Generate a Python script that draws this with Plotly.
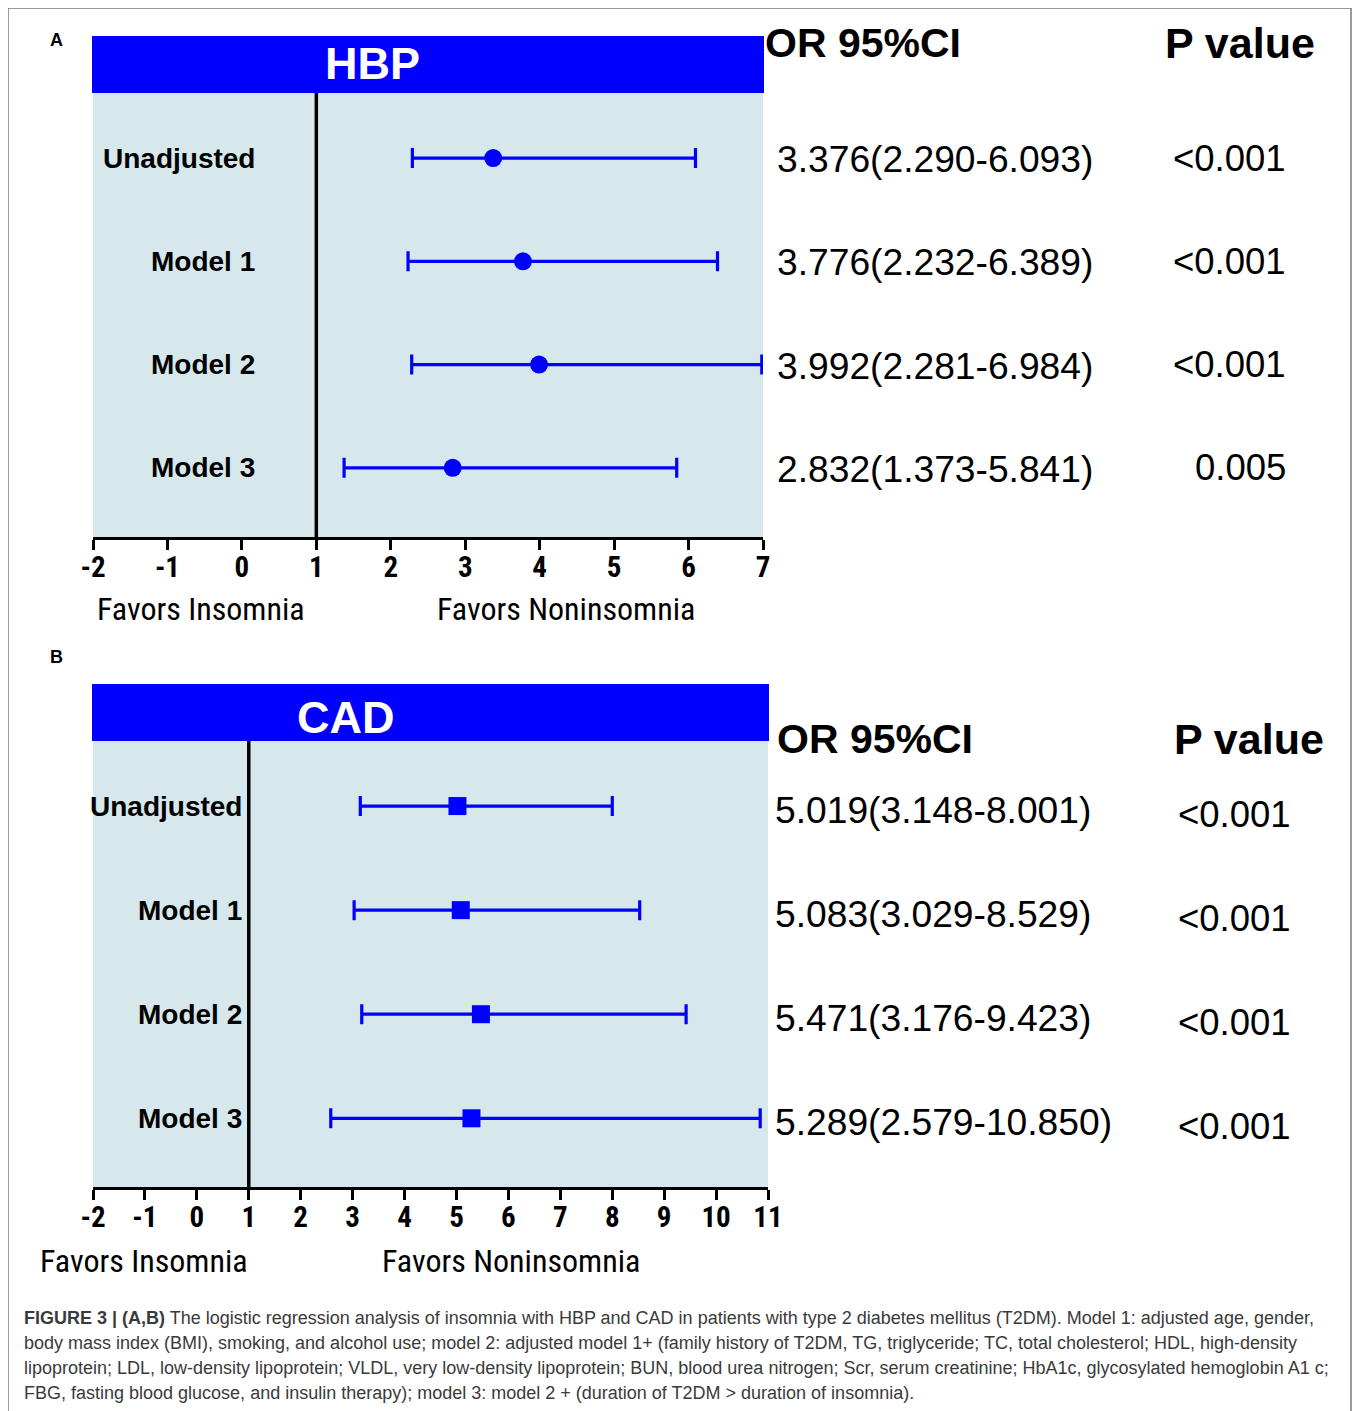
import plotly.graph_objects as go

# ---------------- data ----------------
models = ["Unadjusted", "Model 1", "Model 2", "Model 3"]

hbp_or = [3.376, 3.776, 3.992, 2.832]
hbp_lo = [2.290, 2.232, 2.281, 1.373]
hbp_hi = [6.093, 6.389, 6.984, 5.841]
hbp_p = ["<0.001", "<0.001", "<0.001", "0.005"]

cad_or = [5.019, 5.083, 5.471, 5.289]
cad_lo = [3.148, 3.029, 3.176, 2.579]
cad_hi = [8.001, 8.529, 9.423, 10.850]
cad_p = ["<0.001", "<0.001", "<0.001", "<0.001"]

hbp_ticks = [-2, -1, 0, 1, 2, 3, 4, 5, 6, 7]
cad_ticks = [-2, -1, 0, 1, 2, 3, 4, 5, 6, 7, 8, 9, 10, 11]

caption_lines = [
    "<b>FIGURE 3 | (A,B)</b> The logistic regression analysis of insomnia with HBP and CAD in patients with type 2 diabetes mellitus (T2DM). Model 1: adjusted age, gender,",
    "body mass index (BMI), smoking, and alcohol use; model 2: adjusted model 1+ (family history of T2DM, TG, triglyceride; TC, total cholesterol; HDL, high-density",
    "lipoprotein; LDL, low-density lipoprotein; VLDL, very low-density lipoprotein; BUN, blood urea nitrogen; Scr, serum creatinine; HbA1c, glycosylated hemoglobin A1 c;",
    "FBG, fasting blood glucose, and insulin therapy); model 3: model 2 + (duration of T2DM &gt; duration of insomnia).",
]

# ---------------- layout helpers ----------------
W, H = 1360, 1411
OFF = 8  # page body margin
def px(x):
    return (x - OFF) / W
def py(y):
    return 1 - (y - OFF) / H

BLUE = "#0000FF"
BG = "#D6E8EC"
SANS = "Liberation Sans, Arial, sans-serif"
NARROW = "Roboto Condensed, Liberation Sans, sans-serif"

fig = go.Figure()
idx = list(range(len(models)))

def esc(s):
    return s.replace("<", "&lt;").replace(">", "&gt;")

fig.add_trace(go.Scatter(
    x=hbp_or, y=idx, mode="markers", xaxis="x", yaxis="y",
    marker=dict(symbol="circle", size=18, color=BLUE),
    error_x=dict(type="data", symmetric=False,
                 array=[h - o for h, o in zip(hbp_hi, hbp_or)],
                 arrayminus=[o - l for o, l in zip(hbp_or, hbp_lo)],
                 color=BLUE, thickness=3.2, width=10),
    showlegend=False, hoverinfo="x+y"))

fig.add_trace(go.Scatter(
    x=cad_or, y=idx, mode="markers", xaxis="x2", yaxis="y2",
    marker=dict(symbol="square", size=18, color=BLUE),
    error_x=dict(type="data", symmetric=False,
                 array=[h - o for h, o in zip(cad_hi, cad_or)],
                 arrayminus=[o - l for o, l in zip(cad_or, cad_lo)],
                 color=BLUE, thickness=3.2, width=10),
    showlegend=False, hoverinfo="x+y"))

xcommon = dict(showline=True, linecolor="black", linewidth=3, ticks="outside",
               ticklen=10, tickwidth=3, tickcolor="black", showgrid=False,
               zeroline=False, fixedrange=True, automargin=False,
               ticklabelstandoff=-8,
               tickfont=dict(family=NARROW, size=29, color="black", weight="bold"))
ycommon = dict(showline=False, showticklabels=False, ticks="", showgrid=False,
               zeroline=False, fixedrange=True, automargin=False)

fig.update_layout(
    width=W, height=H, margin=dict(l=0, r=0, t=0, b=0, pad=0, autoexpand=False),
    paper_bgcolor="white", plot_bgcolor=BG, showlegend=False,
    xaxis=dict(domain=[px(93), px(763)], range=[-2, 7], tickvals=hbp_ticks,
               ticktext=[str(t) for t in hbp_ticks], anchor="y", **xcommon),
    yaxis=dict(domain=[py(537), py(93)], range=[3.67, -0.63], anchor="x", **ycommon),
    xaxis2=dict(domain=[px(93), px(768)], range=[-2, 11], tickvals=cad_ticks,
                ticktext=[str(t) for t in cad_ticks], anchor="y2", **xcommon),
    yaxis2=dict(domain=[py(1187), py(741)], range=[3.66, -0.625], anchor="x2", **ycommon),
)

shapes = []
# border (open at the bottom)
shapes.append(dict(type="path", xref="paper", yref="paper",
                   path=f"M {px(8)},0 L {px(8)},{py(8)} L {px(1351)},{py(8)} L {px(1351)},0",
                   line=dict(color="#7a7a7a", width=1.5)))
# header bars
shapes.append(dict(type="rect", xref="paper", yref="paper", x0=px(92), x1=px(764),
                   y0=py(93), y1=py(36), fillcolor=BLUE, line=dict(width=0)))
shapes.append(dict(type="rect", xref="paper", yref="paper", x0=px(92), x1=px(769),
                   y0=py(741), y1=py(684), fillcolor=BLUE, line=dict(width=0)))
# reference lines at OR = 1
shapes.append(dict(type="line", xref="x", yref="y domain", x0=1, x1=1, y0=0, y1=1,
                   line=dict(color="black", width=3.5)))
shapes.append(dict(type="line", xref="x2", yref="y2 domain", x0=1, x1=1, y0=0, y1=1,
                   line=dict(color="black", width=3.5)))
fig.update_layout(shapes=shapes)

ann = []
def txt(x, y, s, size, family=SANS, bold=False, xanchor="center", color="black",
        xref="paper", yref="paper", yshift=0):
    ann.append(dict(x=x, y=y, xref=xref, yref=yref, text=s, showarrow=False,
                    xanchor=xanchor, yanchor="middle", yshift=yshift,
                    font=dict(family=family, size=size, color=color,
                              weight="bold" if bold else "normal")))

# panel letters
txt(px(57), py(40), "A", 18, bold=True)
txt(px(57), py(657), "B", 18, bold=True)
# header titles
txt(px(372), py(64), "HBP", 45, bold=True, color="white")
txt(px(346), py(717), "CAD", 45, bold=True, color="white")
# column headers
txt(px(763), py(43), "OR 95%CI", 41, bold=True, xanchor="left")
txt(px(1163), py(43), "P value", 43, bold=True, xanchor="left")
txt(px(775), py(739), "OR 95%CI", 41, bold=True, xanchor="left")
txt(px(1172), py(739), "P value", 43, bold=True, xanchor="left")

# row labels, OR text and p-values
for i, m in enumerate(models):
    txt(px(257), i, m, 28, bold=True, xanchor="right", yref="y")
    txt(px(244), i, m, 28, bold=True, xanchor="right", yref="y2")
    txt(px(775), i, f"{hbp_or[i]:.3f}({hbp_lo[i]:.3f}-{hbp_hi[i]:.3f})", 37.2,
        xanchor="left", yref="y", yshift=-1)
    txt(px(773), i, f"{cad_or[i]:.3f}({cad_lo[i]:.3f}-{cad_hi[i]:.3f})", 37.2,
        xanchor="left", yref="y2", yshift=-4)
    txt(px(1288), i, esc(hbp_p[i]), 36.5, xanchor="right", yref="y", yshift=0)
    txt(px(1293), i, esc(cad_p[i]), 36.5, xanchor="right", yref="y2", yshift=-8)

# favors labels
txt(px(201), py(609), "Favors Insomnia", 32, family=NARROW)
txt(px(566), py(609), "Favors Noninsomnia", 32, family=NARROW)
txt(px(144), py(1261), "Favors Insomnia", 32, family=NARROW)
txt(px(511), py(1261), "Favors Noninsomnia", 32, family=NARROW)

# caption
for k, line in enumerate(caption_lines):
    txt(px(22), py(1318 + 25 * k), line, 18, family=SANS, xanchor="left", color="#3a3a3a")

fig.update_layout(annotations=ann)
fig.write_html("out.html")
